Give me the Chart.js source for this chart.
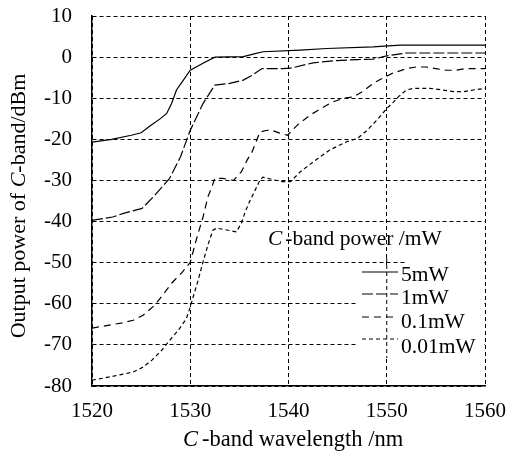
<!DOCTYPE html>
<html>
<head>
<meta charset="utf-8">
<script src="https://cdn.jsdelivr.net/npm/chart.js@4.4.0/dist/chart.umd.min.js"></script>
<style>
  html, body { margin: 0; padding: 0; background: #fff; }
  #wrap { width: 514px; height: 452px; }
</style>
</head>
<body>
<div id="wrap"><canvas id="chart" width="514" height="452"></canvas></div>
<script>
// wavelength (nm) / output power (dBm), one pair per C-band input power
const wl5mW = [1520, 1522, 1524, 1525, 1526, 1527, 1527.6, 1528.1, 1528.6, 1529.3, 1530, 1531.3, 1532.5, 1535.4, 1536.5, 1537.4, 1541.2, 1543.9, 1548.6, 1551.4, 1560];
const pw5mW = [-20.7, -20, -19, -18.4, -16.6, -14.9, -13.7, -11.3, -8, -5.6, -3.2, -1.5, 0, 0.1, 0.8, 1.3, 1.7, 2.1, 2.5, 2.9, 2.9];

const wl1mW = [1520, 1522.1, 1523.2, 1525.1, 1526.4, 1527.9, 1529, 1530, 1531.3, 1532.5, 1534, 1535.4, 1536.3, 1537.3, 1539.4, 1540.2, 1542.5, 1544.5, 1547, 1548.6, 1550, 1552, 1560];
const pw1mW = [-39.7, -38.9, -38, -36.8, -33.6, -29.5, -24.3, -17.8, -11.3, -6.8, -6.4, -5.6, -4.4, -2.8, -2.8, -2.7, -1.4, -0.9, -0.6, -0.5, 0.3, 1, 1];

const wl01mW = [1520, 1521, 1523.2, 1524.2, 1525.2, 1526.4, 1527.2, 1528.1, 1529.2, 1530, 1530.7, 1531.3, 1531.8, 1532.2, 1532.5, 1533.3, 1534.4, 1535.2, 1535.8, 1536.3, 1537.1, 1537.8, 1538.3, 1539.1, 1539.9, 1541, 1542.2, 1543.4, 1544.4, 1545.6, 1546.6, 1547.6, 1548.6, 1549.7, 1550.6, 1551, 1552, 1553, 1554, 1555, 1556, 1557, 1558, 1560];
const pw01mW = [-65.9, -65.5, -64.6, -64, -62.8, -60.3, -57.9, -55, -52.3, -49.9, -43.7, -38.9, -34, -31.6, -29.5, -29.5, -30, -27.9, -25, -23, -18.2, -17.8, -17.8, -18.5, -19, -16.3, -14.1, -12.4, -11, -10, -9.7, -8.3, -6.4, -5, -3.9, -3.6, -2.8, -2.4, -2.4, -2.8, -3.2, -3.2, -2.8, -2.8];

const wl001mW = [1520, 1521.8, 1524.2, 1525.2, 1526.1, 1527.1, 1527.9, 1528.8, 1529.6, 1530, 1530.3, 1530.8, 1531.3, 1531.8, 1532.3, 1532.7, 1534.7, 1535.2, 1535.6, 1536.1, 1536.6, 1537.1, 1537.4, 1538.6, 1539.4, 1540.2, 1541.2, 1542.5, 1544.2, 1545.9, 1547, 1548, 1549, 1550, 1550.7, 1551.2, 1552, 1552.7, 1554.4, 1555.7, 1556.8, 1557.8, 1558.8, 1560];
const pw001mW = [-78.6, -77.8, -76.6, -75.4, -73.7, -71.3, -68.9, -66.4, -63.6, -60.8, -58.3, -54.3, -49.8, -45.7, -42.1, -41.6, -42.5, -40.4, -37.6, -34.8, -32.4, -29.9, -29.2, -29.9, -30.3, -30.3, -27.9, -25.5, -22.6, -20.6, -19.8, -17.8, -15.3, -12.5, -10.9, -9.6, -8, -7.6, -7.6, -8, -8.4, -8.4, -8, -7.6];

const seriesLabels = ['5mW', '1mW', '0.1mW', '0.01mW'];
const xTicks = [1520, 1530, 1540, 1550, 1560];
const yTicks = [10, 0, -10, -20, -30, -40, -50, -60, -70, -80];

const SERIF = '"Liberation Serif", "Times New Roman", serif';
const dashes = [[], [11, 3], [7, 5], [4, 3]];

function pairs(xs, ys) {
    return xs.map((x, i) => ({ x: x, y: ys[i] }));
}

// text with an italic "C" in front
function italicC(ctx, x, y, rest, size, gap) {
    ctx.font = 'italic ' + size + 'px ' + SERIF;
    ctx.fillText('C', x, y);
    const w = ctx.measureText('C').width;
    ctx.font = size + 'px ' + SERIF;
    ctx.fillText(rest, x + w + gap, y);
}

const annotate = {
    id: 'annotate',
    afterDraw(chart) {
        const ctx = chart.ctx;
        const xs = chart.scales.x;
        ctx.save();
        ctx.fillStyle = '#000';
        ctx.textBaseline = 'alphabetic';
        ctx.textAlign = 'left';

        // axis titles
        italicC(ctx, 183, 446, '-band wavelength /nm', 22.5, 4);

        ctx.save();
        ctx.translate(25, 206);
        ctx.rotate(-Math.PI / 2);
        ctx.font = '22px ' + SERIF;
        const a = 'Output power of ';
        const b = '-band/dBm';
        const wa = ctx.measureText(a).width;
        const wb = ctx.measureText(b).width;
        ctx.font = 'italic 22px ' + SERIF;
        const wc = ctx.measureText('C').width;
        let x0 = -(wa + wb + wc) / 2;
        ctx.font = '22px ' + SERIF;
        ctx.fillText(a, x0, 0);
        italicC(ctx, x0 + wa, 0, b, 22, 0);
        ctx.restore();

        // legend block
        ctx.fillStyle = '#fff';
        ctx.fillRect(405, 258, 79, 100);
        ctx.fillRect(358, 266, 47, 92);
        const gx = xs.getPixelForValue(1550);
        ctx.strokeStyle = '#000';
        ctx.lineWidth = 1;
        ctx.setLineDash([4, 3]);
        ctx.beginPath();
        ctx.moveTo(gx, 258);
        ctx.lineTo(gx, 358);
        ctx.stroke();

        ctx.fillStyle = '#000';
        italicC(ctx, 268, 245, '-band power /mW', 21.5, 3);

        const textY = [275, 298, 322, 347];
        const lineY = [272, 294, 317, 339];
        ctx.textBaseline = 'middle';
        ctx.font = '21.5px ' + SERIF;
        seriesLabels.forEach((lab, i) => {
            ctx.setLineDash(dashes[i]);
            ctx.lineWidth = 1.2;
            ctx.beginPath();
            ctx.moveTo(362, lineY[i]);
            ctx.lineTo(398, lineY[i]);
            ctx.stroke();
            ctx.fillText(lab, 401, textY[i]);
        });
        ctx.restore();
    }
};

const curves = [pairs(wl5mW, pw5mW), pairs(wl1mW, pw1mW), pairs(wl01mW, pw01mW), pairs(wl001mW, pw001mW)];

new Chart(document.getElementById('chart'), {
    type: 'line',
    data: {
        datasets: curves.map((pts, i) => ({
            label: seriesLabels[i],
            data: pts,
            borderColor: '#000',
            borderWidth: 1.2,
            borderDash: dashes[i],
            pointRadius: 0,
            fill: false,
            tension: 0
        }))
    },
    options: {
        responsive: false,
        animation: false,
        layout: { padding: { left: 0, right: 29, top: 16, bottom: 0 } },
        plugins: {
            legend: { display: false },
            tooltip: { enabled: false }
        },
        scales: {
            x: {
                type: 'linear',
                min: 1520,
                max: 1560,
                afterFit: (s) => { s.height = 66; },
                afterBuildTicks: (s) => { s.ticks = xTicks.map(v => ({ value: v })); },
                ticks: {
                    color: '#000',
                    font: { family: SERIF, size: 21 },
                    padding: 0,
                    maxRotation: 0,
                    autoSkip: false,
                    callback: (v) => String(v)
                },
                // transparent tick marks push the labels down without adding to the side padding
                grid: { color: '#000', lineWidth: 1, drawTicks: true, tickLength: 13, tickColor: 'rgba(0,0,0,0)' },
                border: { display: true, color: '#000', width: 1.5, dash: [4, 3] }
            },
            y: {
                min: -80,
                max: 10,
                afterFit: (s) => { s.width = 92; },
                afterBuildTicks: (s) => { s.ticks = yTicks.map(v => ({ value: v })); },
                ticks: {
                    color: '#000',
                    font: { family: SERIF, size: 21 },
                    padding: 0,
                    autoSkip: false,
                    callback: (v) => String(v)
                },
                grid: { color: '#000', lineWidth: 1, drawTicks: true, tickLength: 20, tickColor: 'rgba(0,0,0,0)' },
                border: { display: true, color: '#000', width: 1.5, dash: [4, 3] }
            }
        }
    },
    plugins: [annotate]
});
</script>
</body>
</html>
